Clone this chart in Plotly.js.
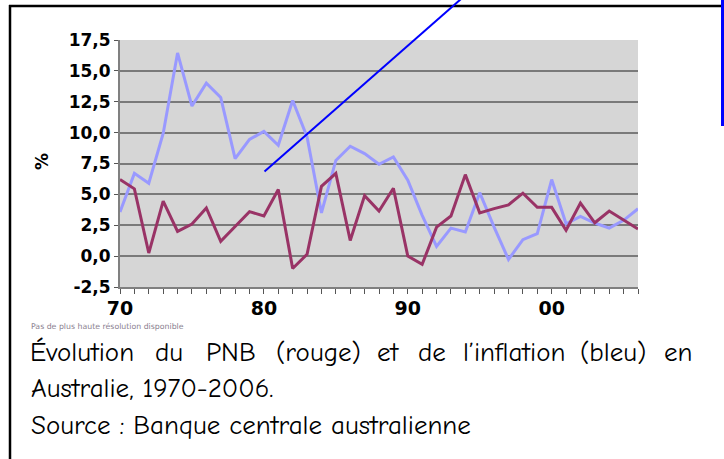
<!DOCTYPE html>
<html>
<head>
<meta charset="utf-8">
<script src="https://cdn.plot.ly/plotly-3.0.1.min.js"></script>
<style>html,body{margin:0;padding:0;background:#fff;}#chart{width:724px;height:459px;}</style>
</head>
<body>
<div id="chart"></div>
<script>
// Data
const years = [1970,1971,1972,1973,1974,1975,1976,1977,1978,1979,1980,1981,1982,1983,1984,1985,1986,1987,1988,1989,1990,1991,1992,1993,1994,1995,1996,1997,1998,1999,2000,2001,2002,2003,2004,2005,2006];
const pnb = [6.2,5.45,0.25,4.45,2.0,2.6,3.9,1.2,2.4,3.6,3.25,5.4,-1.0,0.15,5.65,6.7,1.27,4.9,3.65,5.5,0.0,-0.67,2.35,3.25,6.6,3.5,3.85,4.15,5.1,3.95,3.95,2.1,4.3,2.7,3.65,2.95,2.2];
const inflation = [3.57,6.7,5.9,9.93,16.45,12.15,14.0,12.85,7.9,9.45,10.1,8.98,12.6,9.65,3.5,7.75,8.9,8.3,7.44,8.03,6.14,3.3,0.79,2.27,1.95,5.14,2.35,-0.27,1.33,1.82,6.2,2.62,3.22,2.68,2.27,2.9,3.84];
const xTickVals = [1970,1980,1990,2000];
const xTickText = ['70','80','90','00'];
const yTickVals = [-2.5,0,2.5,5,7.5,10,12.5,15,17.5];
const yTickText = ['-2,5','0,0','2,5','5,0','7,5','10,0','12,5','15,0','17,5'];
const captionLine1 = ['Évolution','du','PNB','(rouge)','et','de','l\u2019inflation','(bleu)','en'];
const captionLine2 = 'Australie, 1970-2006.';
const captionLine3 = 'Source : Banque centrale australienne';
const smallNote = 'Pas de plus haute résolution disponible';

// layout geometry (pixels)
const W = 724, H = 459, L = 120, R = 638, T = 40, B = 287;
const fx = p => (p - L) / (R - L);
const fy = p => (B - p) / (B - T);

const capFont = {family: '"Comic Sans MS","Comic Neue","DejaVu Sans",sans-serif', size: 27, color: '#000'};
const word1Center = [82.3,169.2,230.8,318.3,388.3,432.3,514.2,613.3,677.5];

const annotations = [];
captionLine1.forEach((w, i) => {
  annotations.push({xref:'paper', yref:'paper', x: fx(word1Center[i]), y: fy(352), xanchor:'center', yanchor:'middle', text: w, showarrow:false, font: capFont});
});
annotations.push({xref:'paper', yref:'paper', x: fx(29), y: fy(388), xanchor:'left', yanchor:'middle', text: captionLine2, showarrow:false, font: capFont});
annotations.push({xref:'paper', yref:'paper', x: fx(29), y: fy(425), xanchor:'left', yanchor:'middle', text: captionLine3, showarrow:false, font: capFont});
annotations.push({xref:'paper', yref:'paper', x: fx(29), y: fy(326), xanchor:'left', yanchor:'middle', text: smallNote, showarrow:false, font:{family:'DejaVu Sans, sans-serif', size:7.8, color:'#8a7f8f'}});
annotations.push({xref:'paper', yref:'paper', x: fx(42), y: fy(162), xanchor:'center', yanchor:'middle', text:'<b>%</b>', textangle:-90, showarrow:false, font:{family:'DejaVu Sans, Verdana, sans-serif', size:17, color:'#000'}});

const shapes = [
  {type:'line', xref:'paper', yref:'paper', x0: fx(9), y0: fy(6), x1: fx(723), y1: fy(6), line:{color:'#000', width:2.5}},
  {type:'line', xref:'paper', yref:'paper', x0: fx(10), y0: fy(5), x1: fx(10), y1: fy(460), line:{color:'#000', width:2.5}},
  {type:'line', xref:'paper', yref:'paper', x0: fx(722.5), y0: fy(0), x1: fx(722.5), y1: fy(126), line:{color:'#0000ff', width:3}},
  {type:'line', xref:'paper', yref:'paper', x0: fx(264.5), y0: fy(171.5), x1: fx(461), y1: fy(-1), line:{color:'#0000ff', width:2}}
];

const traces = [
  {x: years, y: inflation, type:'scatter', mode:'lines', name:'Inflation', line:{color:'#9999ff', width:3}},
  {x: years, y: pnb, type:'scatter', mode:'lines', name:'PNB', line:{color:'#993366', width:3}}
];

const layout = {
  width: W, height: H,
  margin: {l: L, r: W - R, t: T, b: H - B, pad: 0},
  paper_bgcolor: '#ffffff',
  plot_bgcolor: '#d6d6d6',
  showlegend: false,
  xaxis: {
    range: [1970, 2006], tickmode:'array', tickvals: xTickVals, ticktext: xTickText,
    ticks:'outside', ticklen:5, tickwidth:1, tickcolor:'#555',
    minor: {dtick:1, tick0:1970, ticks:'outside', ticklen:5, tickwidth:1, tickcolor:'#555', showgrid:false},
    showgrid:false, zeroline:false, showline:true, linecolor:'#808080', linewidth:2,
    tickfont:{family:'DejaVu Sans, Verdana, sans-serif', size:19, color:'#000', weight:'bold'},
    ticklabelstandoff: -2,
    fixedrange:true
  },
  yaxis: {
    range: [-2.5, 17.5], tickmode:'array', tickvals: yTickVals, ticktext: yTickText,
    ticks:'outside', ticklen:4, tickwidth:1, tickcolor:'#555',
    showgrid:true, gridcolor:'#7a7a7a', gridwidth:2, zeroline:false,
    showline:true, linecolor:'#808080', linewidth:2,
    tickfont:{family:'DejaVu Sans, Verdana, sans-serif', size:17, color:'#000', weight:'bold'},
    fixedrange:true
  },
  shapes: shapes,
  annotations: annotations
};

Plotly.newPlot('chart', traces, layout, {staticPlot:true, displayModeBar:false});
</script>
</body>
</html>
